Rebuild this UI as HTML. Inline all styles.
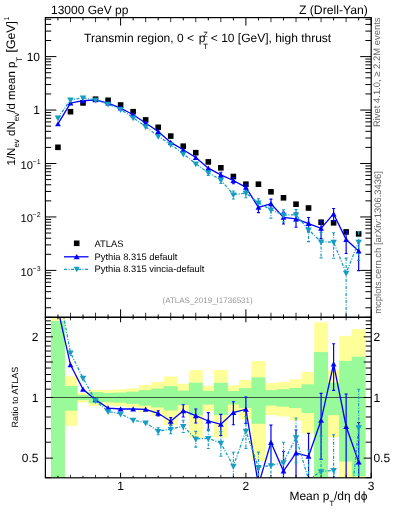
<!DOCTYPE html>
<html><head><meta charset="utf-8"><style>html,body{margin:0;padding:0;background:#fff;width:393px;height:512px;overflow:hidden}svg{display:block;will-change:transform}text{text-rendering:geometricPrecision}</style></head>
<body><svg width="393" height="512" viewBox="0 0 393 512"><rect x="0" y="0" width="393" height="512" fill="#fff"/>
<defs><clipPath id="cm"><rect x="45.4" y="17.6" width="325.8" height="299.7"/></clipPath><clipPath id="cr"><rect x="45.4" y="317.3" width="325.8" height="160.5"/></clipPath></defs>
<g clip-path="url(#cr)">
<rect x="50.98" y="315.30" width="13.93" height="164.50" fill="#ffff99"/>
<rect x="63.51" y="376.10" width="13.93" height="49.75" fill="#ffff99"/>
<rect x="76.04" y="392.90" width="13.93" height="9.42" fill="#ffff99"/>
<rect x="88.57" y="389.80" width="13.93" height="16.11" fill="#ffff99"/>
<rect x="101.10" y="390.10" width="13.93" height="15.45" fill="#ffff99"/>
<rect x="113.63" y="389.50" width="13.93" height="16.77" fill="#ffff99"/>
<rect x="126.16" y="388.50" width="13.93" height="19.00" fill="#ffff99"/>
<rect x="138.69" y="385.00" width="13.93" height="27.05" fill="#ffff99"/>
<rect x="151.22" y="382.00" width="13.93" height="34.31" fill="#ffff99"/>
<rect x="163.75" y="376.50" width="13.93" height="48.64" fill="#ffff99"/>
<rect x="176.28" y="383.80" width="13.93" height="29.91" fill="#ffff99"/>
<rect x="188.81" y="370.10" width="13.93" height="67.46" fill="#ffff99"/>
<rect x="201.34" y="385.80" width="13.93" height="25.17" fill="#ffff99"/>
<rect x="213.88" y="370.10" width="13.93" height="67.46" fill="#ffff99"/>
<rect x="226.40" y="385.30" width="13.93" height="26.35" fill="#ffff99"/>
<rect x="238.94" y="380.00" width="13.93" height="39.36" fill="#ffff99"/>
<rect x="251.47" y="361.10" width="13.93" height="99.81" fill="#ffff99"/>
<rect x="264.00" y="382.90" width="13.93" height="32.10" fill="#ffff99"/>
<rect x="276.53" y="381.90" width="13.93" height="34.56" fill="#ffff99"/>
<rect x="289.06" y="379.30" width="13.93" height="41.17" fill="#ffff99"/>
<rect x="301.59" y="372.00" width="13.93" height="61.59" fill="#ffff99"/>
<rect x="314.12" y="322.30" width="13.93" height="157.50" fill="#ffff99"/>
<rect x="326.65" y="370.30" width="13.93" height="66.83" fill="#ffff99"/>
<rect x="339.18" y="335.90" width="13.93" height="143.90" fill="#ffff99"/>
<rect x="351.70" y="329.20" width="13.93" height="150.60" fill="#ffff99"/>
<rect x="50.98" y="321.00" width="13.93" height="158.80" fill="#98fa98"/>
<rect x="63.51" y="386.00" width="13.93" height="24.71" fill="#98fa98"/>
<rect x="76.04" y="395.00" width="13.93" height="5.04" fill="#98fa98"/>
<rect x="88.57" y="392.10" width="13.93" height="11.12" fill="#98fa98"/>
<rect x="101.10" y="393.00" width="13.93" height="9.21" fill="#98fa98"/>
<rect x="113.63" y="392.60" width="13.93" height="10.06" fill="#98fa98"/>
<rect x="126.16" y="391.60" width="13.93" height="12.19" fill="#98fa98"/>
<rect x="138.69" y="390.10" width="13.93" height="15.45" fill="#98fa98"/>
<rect x="151.22" y="388.50" width="13.93" height="19.00" fill="#98fa98"/>
<rect x="163.75" y="386.20" width="13.93" height="24.24" fill="#98fa98"/>
<rect x="176.28" y="390.50" width="13.93" height="14.58" fill="#98fa98"/>
<rect x="188.81" y="382.70" width="13.93" height="32.59" fill="#98fa98"/>
<rect x="201.34" y="390.90" width="13.93" height="13.71" fill="#98fa98"/>
<rect x="213.88" y="382.80" width="13.93" height="32.34" fill="#98fa98"/>
<rect x="226.40" y="391.00" width="13.93" height="13.49" fill="#98fa98"/>
<rect x="238.94" y="388.20" width="13.93" height="19.67" fill="#98fa98"/>
<rect x="251.47" y="377.30" width="13.93" height="46.47" fill="#98fa98"/>
<rect x="264.00" y="390.10" width="13.93" height="15.45" fill="#98fa98"/>
<rect x="276.53" y="389.20" width="13.93" height="17.44" fill="#98fa98"/>
<rect x="289.06" y="388.00" width="13.93" height="20.12" fill="#98fa98"/>
<rect x="301.59" y="384.30" width="13.93" height="28.71" fill="#98fa98"/>
<rect x="314.12" y="352.10" width="13.93" height="127.70" fill="#98fa98"/>
<rect x="326.65" y="382.80" width="13.93" height="32.34" fill="#98fa98"/>
<rect x="339.18" y="360.90" width="13.93" height="100.64" fill="#98fa98"/>
<rect x="351.70" y="356.70" width="13.93" height="119.60" fill="#98fa98"/>
</g>
<line x1="45.4" y1="397.48" x2="371.2" y2="397.48" stroke="#000" stroke-width="1.1" opacity="0.62"/>
<g clip-path="url(#cr)">
<path d="M57.95,309.27 L70.48,364.90 L83.01,389.30 L95.54,399.80 L108.07,408.10 L120.60,409.00 L133.13,409.00 L145.66,409.30 L158.19,413.30 L170.72,421.30 L183.25,410.70 L195.78,415.70 L208.31,421.00 L220.84,424.30 L233.37,412.50 L245.90,409.20 L258.43,484.95 L270.96,442.50 L283.49,471.10 L296.02,453.00 L308.55,456.30 L321.08,420.30 L333.61,364.00 L346.14,426.50 L358.67,462.00" fill="none" stroke="#0000ff" stroke-width="1.3"/>
<line x1="158.19" y1="410.71" x2="158.19" y2="415.97" stroke="#0000ff" stroke-width="1.2"/>
<line x1="156.69" y1="410.71" x2="159.69" y2="410.71" stroke="#0000ff" stroke-width="1.1"/>
<line x1="156.69" y1="415.97" x2="159.69" y2="415.97" stroke="#0000ff" stroke-width="1.1"/>
<line x1="170.72" y1="417.62" x2="170.72" y2="425.15" stroke="#0000ff" stroke-width="1.2"/>
<line x1="169.22" y1="417.62" x2="172.22" y2="417.62" stroke="#0000ff" stroke-width="1.1"/>
<line x1="169.22" y1="425.15" x2="172.22" y2="425.15" stroke="#0000ff" stroke-width="1.1"/>
<line x1="183.25" y1="404.78" x2="183.25" y2="417.05" stroke="#0000ff" stroke-width="1.2"/>
<line x1="181.75" y1="404.78" x2="184.75" y2="404.78" stroke="#0000ff" stroke-width="1.1"/>
<line x1="181.75" y1="417.05" x2="184.75" y2="417.05" stroke="#0000ff" stroke-width="1.1"/>
<line x1="195.78" y1="408.97" x2="195.78" y2="423.00" stroke="#0000ff" stroke-width="1.2"/>
<line x1="194.28" y1="408.97" x2="197.28" y2="408.97" stroke="#0000ff" stroke-width="1.1"/>
<line x1="194.28" y1="423.00" x2="197.28" y2="423.00" stroke="#0000ff" stroke-width="1.1"/>
<line x1="208.31" y1="412.66" x2="208.31" y2="430.22" stroke="#0000ff" stroke-width="1.2"/>
<line x1="206.81" y1="412.66" x2="209.81" y2="412.66" stroke="#0000ff" stroke-width="1.1"/>
<line x1="206.81" y1="430.22" x2="209.81" y2="430.22" stroke="#0000ff" stroke-width="1.1"/>
<line x1="220.84" y1="414.38" x2="220.84" y2="435.49" stroke="#0000ff" stroke-width="1.2"/>
<line x1="219.34" y1="414.38" x2="222.34" y2="414.38" stroke="#0000ff" stroke-width="1.1"/>
<line x1="219.34" y1="435.49" x2="222.34" y2="435.49" stroke="#0000ff" stroke-width="1.1"/>
<line x1="233.37" y1="401.80" x2="233.37" y2="424.69" stroke="#0000ff" stroke-width="1.2"/>
<line x1="231.87" y1="401.80" x2="234.87" y2="401.80" stroke="#0000ff" stroke-width="1.1"/>
<line x1="231.87" y1="424.69" x2="234.87" y2="424.69" stroke="#0000ff" stroke-width="1.1"/>
<line x1="245.90" y1="396.97" x2="245.90" y2="423.42" stroke="#0000ff" stroke-width="1.2"/>
<line x1="244.40" y1="396.97" x2="247.40" y2="396.97" stroke="#0000ff" stroke-width="1.1"/>
<line x1="244.40" y1="423.42" x2="247.40" y2="423.42" stroke="#0000ff" stroke-width="1.1"/>
<line x1="258.43" y1="468.99" x2="258.43" y2="504.47" stroke="#0000ff" stroke-width="1.2"/>
<line x1="256.93" y1="468.99" x2="259.93" y2="468.99" stroke="#0000ff" stroke-width="1.1"/>
<line x1="256.93" y1="504.47" x2="259.93" y2="504.47" stroke="#0000ff" stroke-width="1.1"/>
<line x1="270.96" y1="425.10" x2="270.96" y2="464.24" stroke="#0000ff" stroke-width="1.2"/>
<line x1="269.46" y1="425.10" x2="272.46" y2="425.10" stroke="#0000ff" stroke-width="1.1"/>
<line x1="269.46" y1="464.24" x2="272.46" y2="464.24" stroke="#0000ff" stroke-width="1.1"/>
<line x1="283.49" y1="451.57" x2="283.49" y2="496.28" stroke="#0000ff" stroke-width="1.2"/>
<line x1="281.99" y1="451.57" x2="284.99" y2="451.57" stroke="#0000ff" stroke-width="1.1"/>
<line x1="281.99" y1="496.28" x2="284.99" y2="496.28" stroke="#0000ff" stroke-width="1.1"/>
<line x1="296.02" y1="430.04" x2="296.02" y2="484.21" stroke="#0000ff" stroke-width="1.2"/>
<line x1="294.52" y1="430.04" x2="297.52" y2="430.04" stroke="#0000ff" stroke-width="1.1"/>
<line x1="294.52" y1="484.21" x2="297.52" y2="484.21" stroke="#0000ff" stroke-width="1.1"/>
<line x1="308.55" y1="433.34" x2="308.55" y2="487.51" stroke="#0000ff" stroke-width="1.2"/>
<line x1="307.05" y1="433.34" x2="310.05" y2="433.34" stroke="#0000ff" stroke-width="1.1"/>
<line x1="307.05" y1="487.51" x2="310.05" y2="487.51" stroke="#0000ff" stroke-width="1.1"/>
<line x1="321.08" y1="393.39" x2="321.08" y2="459.35" stroke="#0000ff" stroke-width="1.2"/>
<line x1="319.58" y1="393.39" x2="322.58" y2="393.39" stroke="#0000ff" stroke-width="1.1"/>
<line x1="319.58" y1="459.35" x2="322.58" y2="459.35" stroke="#0000ff" stroke-width="1.1"/>
<line x1="333.61" y1="343.78" x2="333.61" y2="390.35" stroke="#0000ff" stroke-width="1.2"/>
<line x1="332.11" y1="343.78" x2="335.11" y2="343.78" stroke="#0000ff" stroke-width="1.1"/>
<line x1="332.11" y1="390.35" x2="335.11" y2="390.35" stroke="#0000ff" stroke-width="1.1"/>
<line x1="346.14" y1="393.98" x2="346.14" y2="478.82" stroke="#0000ff" stroke-width="1.2"/>
<line x1="344.64" y1="393.98" x2="347.64" y2="393.98" stroke="#0000ff" stroke-width="1.1"/>
<line x1="344.64" y1="478.82" x2="347.64" y2="478.82" stroke="#0000ff" stroke-width="1.1"/>
<line x1="358.67" y1="422.53" x2="358.67" y2="535.86" stroke="#0000ff" stroke-width="1.2"/>
<line x1="357.17" y1="422.53" x2="360.17" y2="422.53" stroke="#0000ff" stroke-width="1.1"/>
<line x1="357.17" y1="535.86" x2="360.17" y2="535.86" stroke="#0000ff" stroke-width="1.1"/>
</g>
<g clip-path="url(#cr)">
<path d="M57.95,286.27 L70.48,352.70 L83.01,378.10 L95.54,400.50 L108.07,411.50 L120.60,413.90 L133.13,420.00 L145.66,422.70 L158.19,431.20 L170.72,429.20 L183.25,426.20 L195.78,438.90 L208.31,438.30 L220.84,443.10 L233.37,466.00 L245.90,431.00 L258.43,467.30 L270.96,465.40 L283.49,462.50 L296.02,437.50 L308.55,479.50 L321.08,471.40 L333.61,470.30 L346.14,552.43 L358.67,427.60" fill="none" stroke="#179dc3" stroke-width="1.3" stroke-dasharray="3,1.5,1,1.5"/>
<line x1="158.19" y1="427.77" x2="158.19" y2="434.77" stroke="#179dc3" stroke-width="1.2" stroke-dasharray="3,1.5,1,1.5"/>
<line x1="156.69" y1="427.77" x2="159.69" y2="427.77" stroke="#179dc3" stroke-width="1.1"/>
<line x1="156.69" y1="434.77" x2="159.69" y2="434.77" stroke="#179dc3" stroke-width="1.1"/>
<line x1="170.72" y1="424.93" x2="170.72" y2="433.69" stroke="#179dc3" stroke-width="1.2" stroke-dasharray="3,1.5,1,1.5"/>
<line x1="169.22" y1="424.93" x2="172.22" y2="424.93" stroke="#179dc3" stroke-width="1.1"/>
<line x1="169.22" y1="433.69" x2="172.22" y2="433.69" stroke="#179dc3" stroke-width="1.1"/>
<line x1="183.25" y1="420.28" x2="183.25" y2="432.55" stroke="#179dc3" stroke-width="1.2" stroke-dasharray="3,1.5,1,1.5"/>
<line x1="181.75" y1="420.28" x2="184.75" y2="420.28" stroke="#179dc3" stroke-width="1.1"/>
<line x1="181.75" y1="432.55" x2="184.75" y2="432.55" stroke="#179dc3" stroke-width="1.1"/>
<line x1="195.78" y1="431.36" x2="195.78" y2="447.15" stroke="#179dc3" stroke-width="1.2" stroke-dasharray="3,1.5,1,1.5"/>
<line x1="194.28" y1="431.36" x2="197.28" y2="431.36" stroke="#179dc3" stroke-width="1.1"/>
<line x1="194.28" y1="447.15" x2="197.28" y2="447.15" stroke="#179dc3" stroke-width="1.1"/>
<line x1="208.31" y1="429.17" x2="208.31" y2="448.50" stroke="#179dc3" stroke-width="1.2" stroke-dasharray="3,1.5,1,1.5"/>
<line x1="206.81" y1="429.17" x2="209.81" y2="429.17" stroke="#179dc3" stroke-width="1.1"/>
<line x1="206.81" y1="448.50" x2="209.81" y2="448.50" stroke="#179dc3" stroke-width="1.1"/>
<line x1="220.84" y1="431.63" x2="220.84" y2="456.30" stroke="#179dc3" stroke-width="1.2" stroke-dasharray="3,1.5,1,1.5"/>
<line x1="219.34" y1="431.63" x2="222.34" y2="431.63" stroke="#179dc3" stroke-width="1.1"/>
<line x1="219.34" y1="456.30" x2="222.34" y2="456.30" stroke="#179dc3" stroke-width="1.1"/>
<line x1="233.37" y1="452.26" x2="233.37" y2="482.31" stroke="#179dc3" stroke-width="1.2" stroke-dasharray="3,1.5,1,1.5"/>
<line x1="231.87" y1="452.26" x2="234.87" y2="452.26" stroke="#179dc3" stroke-width="1.1"/>
<line x1="231.87" y1="482.31" x2="234.87" y2="482.31" stroke="#179dc3" stroke-width="1.1"/>
<line x1="245.90" y1="416.52" x2="245.90" y2="448.37" stroke="#179dc3" stroke-width="1.2" stroke-dasharray="3,1.5,1,1.5"/>
<line x1="244.40" y1="416.52" x2="247.40" y2="416.52" stroke="#179dc3" stroke-width="1.1"/>
<line x1="244.40" y1="448.37" x2="247.40" y2="448.37" stroke="#179dc3" stroke-width="1.1"/>
<line x1="258.43" y1="452.08" x2="258.43" y2="485.74" stroke="#179dc3" stroke-width="1.2" stroke-dasharray="3,1.5,1,1.5"/>
<line x1="256.93" y1="452.08" x2="259.93" y2="452.08" stroke="#179dc3" stroke-width="1.1"/>
<line x1="256.93" y1="485.74" x2="259.93" y2="485.74" stroke="#179dc3" stroke-width="1.1"/>
<line x1="270.96" y1="442.44" x2="270.96" y2="496.61" stroke="#179dc3" stroke-width="1.2" stroke-dasharray="3,1.5,1,1.5"/>
<line x1="269.46" y1="442.44" x2="272.46" y2="442.44" stroke="#179dc3" stroke-width="1.1"/>
<line x1="269.46" y1="496.61" x2="272.46" y2="496.61" stroke="#179dc3" stroke-width="1.1"/>
<line x1="283.49" y1="442.28" x2="283.49" y2="488.85" stroke="#179dc3" stroke-width="1.2" stroke-dasharray="3,1.5,1,1.5"/>
<line x1="281.99" y1="442.28" x2="284.99" y2="442.28" stroke="#179dc3" stroke-width="1.1"/>
<line x1="281.99" y1="488.85" x2="284.99" y2="488.85" stroke="#179dc3" stroke-width="1.1"/>
<line x1="296.02" y1="417.97" x2="296.02" y2="462.68" stroke="#179dc3" stroke-width="1.2" stroke-dasharray="3,1.5,1,1.5"/>
<line x1="294.52" y1="417.97" x2="297.52" y2="417.97" stroke="#179dc3" stroke-width="1.1"/>
<line x1="294.52" y1="462.68" x2="297.52" y2="462.68" stroke="#179dc3" stroke-width="1.1"/>
<line x1="308.55" y1="450.06" x2="308.55" y2="524.20" stroke="#179dc3" stroke-width="1.2" stroke-dasharray="3,1.5,1,1.5"/>
<line x1="307.05" y1="450.06" x2="310.05" y2="450.06" stroke="#179dc3" stroke-width="1.1"/>
<line x1="307.05" y1="524.20" x2="310.05" y2="524.20" stroke="#179dc3" stroke-width="1.1"/>
<line x1="321.08" y1="435.92" x2="321.08" y2="532.06" stroke="#179dc3" stroke-width="1.2" stroke-dasharray="3,1.5,1,1.5"/>
<line x1="319.58" y1="435.92" x2="322.58" y2="435.92" stroke="#179dc3" stroke-width="1.1"/>
<line x1="319.58" y1="532.06" x2="322.58" y2="532.06" stroke="#179dc3" stroke-width="1.1"/>
<line x1="333.61" y1="434.82" x2="333.61" y2="530.96" stroke="#179dc3" stroke-width="1.2" stroke-dasharray="3,1.5,1,1.5"/>
<line x1="332.11" y1="434.82" x2="335.11" y2="434.82" stroke="#179dc3" stroke-width="1.1"/>
<line x1="332.11" y1="530.96" x2="335.11" y2="530.96" stroke="#179dc3" stroke-width="1.1"/>
<line x1="346.14" y1="496.26" x2="346.14" y2="753.93" stroke="#179dc3" stroke-width="1.2" stroke-dasharray="3,1.5,1,1.5"/>
<line x1="344.64" y1="496.26" x2="347.64" y2="496.26" stroke="#179dc3" stroke-width="1.1"/>
<line x1="344.64" y1="753.93" x2="347.64" y2="753.93" stroke="#179dc3" stroke-width="1.1"/>
<line x1="358.67" y1="389.25" x2="358.67" y2="497.48" stroke="#179dc3" stroke-width="1.2" stroke-dasharray="3,1.5,1,1.5"/>
<line x1="357.17" y1="389.25" x2="360.17" y2="389.25" stroke="#179dc3" stroke-width="1.1"/>
<line x1="357.17" y1="497.48" x2="360.17" y2="497.48" stroke="#179dc3" stroke-width="1.1"/>
</g>
<g clip-path="url(#cr)">
<path d="M55.05,311.73L60.85,311.73L57.95,306.51Z" fill="#0000ff"/>
<path d="M67.58,367.36L73.38,367.36L70.48,362.14Z" fill="#0000ff"/>
<path d="M80.11,391.76L85.91,391.76L83.01,386.55Z" fill="#0000ff"/>
<path d="M92.64,402.26L98.44,402.26L95.54,397.05Z" fill="#0000ff"/>
<path d="M105.17,410.56L110.97,410.56L108.07,405.35Z" fill="#0000ff"/>
<path d="M117.70,411.46L123.50,411.46L120.60,406.25Z" fill="#0000ff"/>
<path d="M130.23,411.46L136.03,411.46L133.13,406.25Z" fill="#0000ff"/>
<path d="M142.76,411.76L148.56,411.76L145.66,406.55Z" fill="#0000ff"/>
<path d="M155.29,415.76L161.09,415.76L158.19,410.55Z" fill="#0000ff"/>
<path d="M167.82,423.76L173.62,423.76L170.72,418.55Z" fill="#0000ff"/>
<path d="M180.35,413.16L186.15,413.16L183.25,407.94Z" fill="#0000ff"/>
<path d="M192.88,418.16L198.68,418.16L195.78,412.94Z" fill="#0000ff"/>
<path d="M205.41,423.46L211.21,423.46L208.31,418.25Z" fill="#0000ff"/>
<path d="M217.94,426.76L223.74,426.76L220.84,421.55Z" fill="#0000ff"/>
<path d="M230.47,414.96L236.27,414.96L233.37,409.75Z" fill="#0000ff"/>
<path d="M243.00,411.66L248.80,411.66L245.90,406.44Z" fill="#0000ff"/>
<path d="M255.53,487.41L261.33,487.41L258.43,482.19Z" fill="#0000ff"/>
<path d="M268.06,444.96L273.86,444.96L270.96,439.75Z" fill="#0000ff"/>
<path d="M280.59,473.56L286.39,473.56L283.49,468.35Z" fill="#0000ff"/>
<path d="M293.12,455.46L298.92,455.46L296.02,450.25Z" fill="#0000ff"/>
<path d="M305.65,458.76L311.45,458.76L308.55,453.55Z" fill="#0000ff"/>
<path d="M318.18,422.76L323.98,422.76L321.08,417.55Z" fill="#0000ff"/>
<path d="M330.71,366.46L336.51,366.46L333.61,361.25Z" fill="#0000ff"/>
<path d="M343.24,428.96L349.04,428.96L346.14,423.75Z" fill="#0000ff"/>
<path d="M355.77,464.46L361.57,464.46L358.67,459.25Z" fill="#0000ff"/>
</g>
<g clip-path="url(#cr)">
<path d="M54.70,284.01L61.20,284.01L57.95,289.86Z" fill="#179dc3"/>
<path d="M67.23,350.44L73.73,350.44L70.48,356.29Z" fill="#179dc3"/>
<path d="M79.76,375.84L86.26,375.84L83.01,381.69Z" fill="#179dc3"/>
<path d="M92.29,398.24L98.79,398.24L95.54,404.09Z" fill="#179dc3"/>
<path d="M104.82,409.24L111.32,409.24L108.07,415.09Z" fill="#179dc3"/>
<path d="M117.35,411.64L123.85,411.64L120.60,417.49Z" fill="#179dc3"/>
<path d="M129.88,417.74L136.38,417.74L133.13,423.59Z" fill="#179dc3"/>
<path d="M142.41,420.44L148.91,420.44L145.66,426.29Z" fill="#179dc3"/>
<path d="M154.94,428.94L161.44,428.94L158.19,434.79Z" fill="#179dc3"/>
<path d="M167.47,426.94L173.97,426.94L170.72,432.79Z" fill="#179dc3"/>
<path d="M180.00,423.94L186.50,423.94L183.25,429.79Z" fill="#179dc3"/>
<path d="M192.53,436.64L199.03,436.64L195.78,442.49Z" fill="#179dc3"/>
<path d="M205.06,436.04L211.56,436.04L208.31,441.89Z" fill="#179dc3"/>
<path d="M217.59,440.84L224.09,440.84L220.84,446.69Z" fill="#179dc3"/>
<path d="M230.12,463.74L236.62,463.74L233.37,469.59Z" fill="#179dc3"/>
<path d="M242.65,428.74L249.15,428.74L245.90,434.59Z" fill="#179dc3"/>
<path d="M255.18,465.04L261.68,465.04L258.43,470.89Z" fill="#179dc3"/>
<path d="M267.71,463.14L274.21,463.14L270.96,468.99Z" fill="#179dc3"/>
<path d="M280.24,460.24L286.74,460.24L283.49,466.09Z" fill="#179dc3"/>
<path d="M292.77,435.24L299.27,435.24L296.02,441.09Z" fill="#179dc3"/>
<path d="M305.30,477.24L311.80,477.24L308.55,483.09Z" fill="#179dc3"/>
<path d="M317.83,469.14L324.33,469.14L321.08,474.99Z" fill="#179dc3"/>
<path d="M330.36,468.04L336.86,468.04L333.61,473.89Z" fill="#179dc3"/>
<path d="M342.89,550.16L349.39,550.16L346.14,556.01Z" fill="#179dc3"/>
<path d="M355.42,425.34L361.92,425.34L358.67,431.19Z" fill="#179dc3"/>
</g>
<rect x="55.15" y="144.50" width="5.6" height="5.6" fill="#000"/>
<rect x="67.68" y="108.90" width="5.6" height="5.6" fill="#000"/>
<rect x="80.21" y="100.10" width="5.6" height="5.6" fill="#000"/>
<rect x="92.74" y="96.40" width="5.6" height="5.6" fill="#000"/>
<rect x="105.27" y="97.50" width="5.6" height="5.6" fill="#000"/>
<rect x="117.80" y="102.20" width="5.6" height="5.6" fill="#000"/>
<rect x="130.33" y="108.90" width="5.6" height="5.6" fill="#000"/>
<rect x="142.86" y="117.10" width="5.6" height="5.6" fill="#000"/>
<rect x="155.39" y="124.50" width="5.6" height="5.6" fill="#000"/>
<rect x="167.92" y="133.30" width="5.6" height="5.6" fill="#000"/>
<rect x="180.45" y="143.40" width="5.6" height="5.6" fill="#000"/>
<rect x="192.98" y="149.90" width="5.6" height="5.6" fill="#000"/>
<rect x="205.51" y="159.10" width="5.6" height="5.6" fill="#000"/>
<rect x="218.04" y="165.00" width="5.6" height="5.6" fill="#000"/>
<rect x="230.57" y="173.70" width="5.6" height="5.6" fill="#000"/>
<rect x="243.10" y="181.40" width="5.6" height="5.6" fill="#000"/>
<rect x="255.63" y="181.40" width="5.6" height="5.6" fill="#000"/>
<rect x="268.16" y="189.00" width="5.6" height="5.6" fill="#000"/>
<rect x="280.69" y="195.00" width="5.6" height="5.6" fill="#000"/>
<rect x="293.22" y="201.40" width="5.6" height="5.6" fill="#000"/>
<rect x="305.75" y="205.20" width="5.6" height="5.6" fill="#000"/>
<rect x="318.28" y="219.40" width="5.6" height="5.6" fill="#000"/>
<rect x="330.81" y="220.00" width="5.6" height="5.6" fill="#000"/>
<rect x="343.34" y="229.10" width="5.6" height="5.6" fill="#000"/>
<rect x="355.87" y="231.10" width="5.6" height="5.6" fill="#000"/>
<g clip-path="url(#cm)">
<path d="M57.95,123.90 L70.48,103.06 L83.01,100.73 L95.54,99.81 L108.07,103.12 L120.60,108.05 L133.13,114.75 L145.66,123.03 L158.19,131.50 L170.72,142.42 L183.25,149.71 L195.78,157.53 L208.31,168.14 L220.84,174.91 L233.37,180.48 L245.90,187.31 L258.43,207.40 L270.96,203.74 L283.49,217.33 L296.02,218.93 L308.55,223.60 L321.08,228.25 L333.61,213.92 L346.14,239.60 L358.67,251.01" fill="none" stroke="#0000ff" stroke-width="1.3"/>
<line x1="220.84" y1="172.28" x2="220.84" y2="177.88" stroke="#0000ff" stroke-width="1.2"/>
<line x1="219.34" y1="172.28" x2="222.34" y2="172.28" stroke="#0000ff" stroke-width="1.1"/>
<line x1="219.34" y1="177.88" x2="222.34" y2="177.88" stroke="#0000ff" stroke-width="1.1"/>
<line x1="233.37" y1="177.65" x2="233.37" y2="183.72" stroke="#0000ff" stroke-width="1.2"/>
<line x1="231.87" y1="177.65" x2="234.87" y2="177.65" stroke="#0000ff" stroke-width="1.1"/>
<line x1="231.87" y1="183.72" x2="234.87" y2="183.72" stroke="#0000ff" stroke-width="1.1"/>
<line x1="245.90" y1="184.06" x2="245.90" y2="191.08" stroke="#0000ff" stroke-width="1.2"/>
<line x1="244.40" y1="184.06" x2="247.40" y2="184.06" stroke="#0000ff" stroke-width="1.1"/>
<line x1="244.40" y1="191.08" x2="247.40" y2="191.08" stroke="#0000ff" stroke-width="1.1"/>
<line x1="258.43" y1="203.17" x2="258.43" y2="212.58" stroke="#0000ff" stroke-width="1.2"/>
<line x1="256.93" y1="203.17" x2="259.93" y2="203.17" stroke="#0000ff" stroke-width="1.1"/>
<line x1="256.93" y1="212.58" x2="259.93" y2="212.58" stroke="#0000ff" stroke-width="1.1"/>
<line x1="270.96" y1="199.12" x2="270.96" y2="209.51" stroke="#0000ff" stroke-width="1.2"/>
<line x1="269.46" y1="199.12" x2="272.46" y2="199.12" stroke="#0000ff" stroke-width="1.1"/>
<line x1="269.46" y1="209.51" x2="272.46" y2="209.51" stroke="#0000ff" stroke-width="1.1"/>
<line x1="283.49" y1="212.15" x2="283.49" y2="224.01" stroke="#0000ff" stroke-width="1.2"/>
<line x1="281.99" y1="212.15" x2="284.99" y2="212.15" stroke="#0000ff" stroke-width="1.1"/>
<line x1="281.99" y1="224.01" x2="284.99" y2="224.01" stroke="#0000ff" stroke-width="1.1"/>
<line x1="296.02" y1="212.84" x2="296.02" y2="227.21" stroke="#0000ff" stroke-width="1.2"/>
<line x1="294.52" y1="212.84" x2="297.52" y2="212.84" stroke="#0000ff" stroke-width="1.1"/>
<line x1="294.52" y1="227.21" x2="297.52" y2="227.21" stroke="#0000ff" stroke-width="1.1"/>
<line x1="308.55" y1="217.51" x2="308.55" y2="231.88" stroke="#0000ff" stroke-width="1.2"/>
<line x1="307.05" y1="217.51" x2="310.05" y2="217.51" stroke="#0000ff" stroke-width="1.1"/>
<line x1="307.05" y1="231.88" x2="310.05" y2="231.88" stroke="#0000ff" stroke-width="1.1"/>
<line x1="321.08" y1="221.11" x2="321.08" y2="238.61" stroke="#0000ff" stroke-width="1.2"/>
<line x1="319.58" y1="221.11" x2="322.58" y2="221.11" stroke="#0000ff" stroke-width="1.1"/>
<line x1="319.58" y1="238.61" x2="322.58" y2="238.61" stroke="#0000ff" stroke-width="1.1"/>
<line x1="333.61" y1="208.55" x2="333.61" y2="220.91" stroke="#0000ff" stroke-width="1.2"/>
<line x1="332.11" y1="208.55" x2="335.11" y2="208.55" stroke="#0000ff" stroke-width="1.1"/>
<line x1="332.11" y1="220.91" x2="335.11" y2="220.91" stroke="#0000ff" stroke-width="1.1"/>
<line x1="346.14" y1="230.97" x2="346.14" y2="253.47" stroke="#0000ff" stroke-width="1.2"/>
<line x1="344.64" y1="230.97" x2="347.64" y2="230.97" stroke="#0000ff" stroke-width="1.1"/>
<line x1="344.64" y1="253.47" x2="347.64" y2="253.47" stroke="#0000ff" stroke-width="1.1"/>
<line x1="358.67" y1="240.54" x2="358.67" y2="270.60" stroke="#0000ff" stroke-width="1.2"/>
<line x1="357.17" y1="240.54" x2="360.17" y2="240.54" stroke="#0000ff" stroke-width="1.1"/>
<line x1="357.17" y1="270.60" x2="360.17" y2="270.60" stroke="#0000ff" stroke-width="1.1"/>
</g>
<g clip-path="url(#cm)">
<path d="M57.95,117.80 L70.48,99.82 L83.01,97.76 L95.54,100.00 L108.07,104.02 L120.60,109.35 L133.13,117.67 L145.66,126.59 L158.19,136.24 L170.72,144.51 L183.25,153.82 L195.78,163.69 L208.31,172.73 L220.84,179.90 L233.37,194.67 L245.90,193.09 L258.43,202.72 L270.96,209.82 L283.49,215.05 L296.02,214.81 L308.55,229.76 L321.08,241.81 L333.61,242.11 L346.14,273.00 L358.67,241.89" fill="none" stroke="#179dc3" stroke-width="1.3" stroke-dasharray="3,1.5,1,1.5"/>
<line x1="208.31" y1="170.30" x2="208.31" y2="175.43" stroke="#179dc3" stroke-width="1.2" stroke-dasharray="3,1.5,1,1.5"/>
<line x1="206.81" y1="170.30" x2="209.81" y2="170.30" stroke="#179dc3" stroke-width="1.1"/>
<line x1="206.81" y1="175.43" x2="209.81" y2="175.43" stroke="#179dc3" stroke-width="1.1"/>
<line x1="220.84" y1="176.86" x2="220.84" y2="183.40" stroke="#179dc3" stroke-width="1.2" stroke-dasharray="3,1.5,1,1.5"/>
<line x1="219.34" y1="176.86" x2="222.34" y2="176.86" stroke="#179dc3" stroke-width="1.1"/>
<line x1="219.34" y1="183.40" x2="222.34" y2="183.40" stroke="#179dc3" stroke-width="1.1"/>
<line x1="233.37" y1="191.03" x2="233.37" y2="199.00" stroke="#179dc3" stroke-width="1.2" stroke-dasharray="3,1.5,1,1.5"/>
<line x1="231.87" y1="191.03" x2="234.87" y2="191.03" stroke="#179dc3" stroke-width="1.1"/>
<line x1="231.87" y1="199.00" x2="234.87" y2="199.00" stroke="#179dc3" stroke-width="1.1"/>
<line x1="245.90" y1="189.25" x2="245.90" y2="197.70" stroke="#179dc3" stroke-width="1.2" stroke-dasharray="3,1.5,1,1.5"/>
<line x1="244.40" y1="189.25" x2="247.40" y2="189.25" stroke="#179dc3" stroke-width="1.1"/>
<line x1="244.40" y1="197.70" x2="247.40" y2="197.70" stroke="#179dc3" stroke-width="1.1"/>
<line x1="258.43" y1="198.68" x2="258.43" y2="207.61" stroke="#179dc3" stroke-width="1.2" stroke-dasharray="3,1.5,1,1.5"/>
<line x1="256.93" y1="198.68" x2="259.93" y2="198.68" stroke="#179dc3" stroke-width="1.1"/>
<line x1="256.93" y1="207.61" x2="259.93" y2="207.61" stroke="#179dc3" stroke-width="1.1"/>
<line x1="270.96" y1="203.72" x2="270.96" y2="218.09" stroke="#179dc3" stroke-width="1.2" stroke-dasharray="3,1.5,1,1.5"/>
<line x1="269.46" y1="203.72" x2="272.46" y2="203.72" stroke="#179dc3" stroke-width="1.1"/>
<line x1="269.46" y1="218.09" x2="272.46" y2="218.09" stroke="#179dc3" stroke-width="1.1"/>
<line x1="283.49" y1="209.68" x2="283.49" y2="222.04" stroke="#179dc3" stroke-width="1.2" stroke-dasharray="3,1.5,1,1.5"/>
<line x1="281.99" y1="209.68" x2="284.99" y2="209.68" stroke="#179dc3" stroke-width="1.1"/>
<line x1="281.99" y1="222.04" x2="284.99" y2="222.04" stroke="#179dc3" stroke-width="1.1"/>
<line x1="296.02" y1="209.63" x2="296.02" y2="221.49" stroke="#179dc3" stroke-width="1.2" stroke-dasharray="3,1.5,1,1.5"/>
<line x1="294.52" y1="209.63" x2="297.52" y2="209.63" stroke="#179dc3" stroke-width="1.1"/>
<line x1="294.52" y1="221.49" x2="297.52" y2="221.49" stroke="#179dc3" stroke-width="1.1"/>
<line x1="308.55" y1="221.94" x2="308.55" y2="241.61" stroke="#179dc3" stroke-width="1.2" stroke-dasharray="3,1.5,1,1.5"/>
<line x1="307.05" y1="221.94" x2="310.05" y2="221.94" stroke="#179dc3" stroke-width="1.1"/>
<line x1="307.05" y1="241.61" x2="310.05" y2="241.61" stroke="#179dc3" stroke-width="1.1"/>
<line x1="321.08" y1="232.39" x2="321.08" y2="257.90" stroke="#179dc3" stroke-width="1.2" stroke-dasharray="3,1.5,1,1.5"/>
<line x1="319.58" y1="232.39" x2="322.58" y2="232.39" stroke="#179dc3" stroke-width="1.1"/>
<line x1="319.58" y1="257.90" x2="322.58" y2="257.90" stroke="#179dc3" stroke-width="1.1"/>
<line x1="333.61" y1="232.70" x2="333.61" y2="258.21" stroke="#179dc3" stroke-width="1.2" stroke-dasharray="3,1.5,1,1.5"/>
<line x1="332.11" y1="232.70" x2="335.11" y2="232.70" stroke="#179dc3" stroke-width="1.1"/>
<line x1="332.11" y1="258.21" x2="335.11" y2="258.21" stroke="#179dc3" stroke-width="1.1"/>
<line x1="346.14" y1="258.10" x2="346.14" y2="326.45" stroke="#179dc3" stroke-width="1.2" stroke-dasharray="3,1.5,1,1.5"/>
<line x1="344.64" y1="258.10" x2="347.64" y2="258.10" stroke="#179dc3" stroke-width="1.1"/>
<line x1="344.64" y1="326.45" x2="347.64" y2="326.45" stroke="#179dc3" stroke-width="1.1"/>
<line x1="358.67" y1="231.72" x2="358.67" y2="260.42" stroke="#179dc3" stroke-width="1.2" stroke-dasharray="3,1.5,1,1.5"/>
<line x1="357.17" y1="231.72" x2="360.17" y2="231.72" stroke="#179dc3" stroke-width="1.1"/>
<line x1="357.17" y1="260.42" x2="360.17" y2="260.42" stroke="#179dc3" stroke-width="1.1"/>
</g>
<g clip-path="url(#cm)">
<path d="M55.05,126.37L60.85,126.37L57.95,121.15Z" fill="#0000ff"/>
<path d="M67.58,105.52L73.38,105.52L70.48,100.30Z" fill="#0000ff"/>
<path d="M80.11,103.19L85.91,103.19L83.01,97.97Z" fill="#0000ff"/>
<path d="M92.64,102.28L98.44,102.28L95.54,97.06Z" fill="#0000ff"/>
<path d="M105.17,105.58L110.97,105.58L108.07,100.36Z" fill="#0000ff"/>
<path d="M117.70,110.52L123.50,110.52L120.60,105.30Z" fill="#0000ff"/>
<path d="M130.23,117.22L136.03,117.22L133.13,112.00Z" fill="#0000ff"/>
<path d="M142.76,125.50L148.56,125.50L145.66,120.28Z" fill="#0000ff"/>
<path d="M155.29,133.96L161.09,133.96L158.19,128.74Z" fill="#0000ff"/>
<path d="M167.82,144.88L173.62,144.88L170.72,139.66Z" fill="#0000ff"/>
<path d="M180.35,152.17L186.15,152.17L183.25,146.95Z" fill="#0000ff"/>
<path d="M192.88,160.00L198.68,160.00L195.78,154.78Z" fill="#0000ff"/>
<path d="M205.41,170.60L211.21,170.60L208.31,165.38Z" fill="#0000ff"/>
<path d="M217.94,177.38L223.74,177.38L220.84,172.16Z" fill="#0000ff"/>
<path d="M230.47,182.95L236.27,182.95L233.37,177.73Z" fill="#0000ff"/>
<path d="M243.00,189.77L248.80,189.77L245.90,184.55Z" fill="#0000ff"/>
<path d="M255.53,209.87L261.33,209.87L258.43,204.65Z" fill="#0000ff"/>
<path d="M268.06,206.21L273.86,206.21L270.96,200.99Z" fill="#0000ff"/>
<path d="M280.59,219.79L286.39,219.79L283.49,214.57Z" fill="#0000ff"/>
<path d="M293.12,221.39L298.92,221.39L296.02,216.17Z" fill="#0000ff"/>
<path d="M305.65,226.07L311.45,226.07L308.55,220.85Z" fill="#0000ff"/>
<path d="M318.18,230.72L323.98,230.72L321.08,225.50Z" fill="#0000ff"/>
<path d="M330.71,216.38L336.51,216.38L333.61,211.16Z" fill="#0000ff"/>
<path d="M343.24,242.06L349.04,242.06L346.14,236.84Z" fill="#0000ff"/>
<path d="M355.77,253.48L361.57,253.48L358.67,248.26Z" fill="#0000ff"/>
</g>
<g clip-path="url(#cm)">
<path d="M54.70,115.54L61.20,115.54L57.95,121.39Z" fill="#179dc3"/>
<path d="M67.23,97.56L73.73,97.56L70.48,103.41Z" fill="#179dc3"/>
<path d="M79.76,95.50L86.26,95.50L83.01,101.35Z" fill="#179dc3"/>
<path d="M92.29,97.74L98.79,97.74L95.54,103.59Z" fill="#179dc3"/>
<path d="M104.82,101.76L111.32,101.76L108.07,107.61Z" fill="#179dc3"/>
<path d="M117.35,107.09L123.85,107.09L120.60,112.94Z" fill="#179dc3"/>
<path d="M129.88,115.41L136.38,115.41L133.13,121.26Z" fill="#179dc3"/>
<path d="M142.41,124.33L148.91,124.33L145.66,130.18Z" fill="#179dc3"/>
<path d="M154.94,133.98L161.44,133.98L158.19,139.83Z" fill="#179dc3"/>
<path d="M167.47,142.25L173.97,142.25L170.72,148.10Z" fill="#179dc3"/>
<path d="M180.00,151.55L186.50,151.55L183.25,157.40Z" fill="#179dc3"/>
<path d="M192.53,161.42L199.03,161.42L195.78,167.27Z" fill="#179dc3"/>
<path d="M205.06,170.46L211.56,170.46L208.31,176.31Z" fill="#179dc3"/>
<path d="M217.59,177.64L224.09,177.64L220.84,183.49Z" fill="#179dc3"/>
<path d="M230.12,192.41L236.62,192.41L233.37,198.26Z" fill="#179dc3"/>
<path d="M242.65,190.83L249.15,190.83L245.90,196.68Z" fill="#179dc3"/>
<path d="M255.18,200.46L261.68,200.46L258.43,206.31Z" fill="#179dc3"/>
<path d="M267.71,207.55L274.21,207.55L270.96,213.40Z" fill="#179dc3"/>
<path d="M280.24,212.78L286.74,212.78L283.49,218.63Z" fill="#179dc3"/>
<path d="M292.77,212.55L299.27,212.55L296.02,218.40Z" fill="#179dc3"/>
<path d="M305.30,227.49L311.80,227.49L308.55,233.34Z" fill="#179dc3"/>
<path d="M317.83,239.54L324.33,239.54L321.08,245.39Z" fill="#179dc3"/>
<path d="M330.36,239.85L336.86,239.85L333.61,245.70Z" fill="#179dc3"/>
<path d="M342.89,270.74L349.39,270.74L346.14,276.59Z" fill="#179dc3"/>
<path d="M355.42,239.63L361.92,239.63L358.67,245.48Z" fill="#179dc3"/>
</g>
<rect x="45.4" y="17.6" width="325.8" height="299.7" fill="none" stroke="#000" stroke-width="1.2"/>
<rect x="45.4" y="317.3" width="325.8" height="160.5" fill="none" stroke="#000" stroke-width="1.2"/>
<g stroke="#000" stroke-width="1">
<line x1="45.42" y1="17.6" x2="45.42" y2="22.200000000000003" stroke-width="0.8"/>
<line x1="45.42" y1="317.3" x2="45.42" y2="312.7" stroke-width="0.8"/>
<line x1="45.42" y1="317.3" x2="45.42" y2="320.3" stroke-width="0.8"/>
<line x1="45.42" y1="477.8" x2="45.42" y2="474.8" stroke-width="0.8"/>
<line x1="57.95" y1="17.6" x2="57.95" y2="20.400000000000002" stroke-width="1"/>
<line x1="57.95" y1="317.3" x2="57.95" y2="314.5" stroke-width="1"/>
<line x1="57.95" y1="317.3" x2="57.95" y2="319.3" stroke-width="1"/>
<line x1="57.95" y1="477.8" x2="57.95" y2="475.8" stroke-width="1"/>
<line x1="70.48" y1="17.6" x2="70.48" y2="22.200000000000003" stroke-width="0.8"/>
<line x1="70.48" y1="317.3" x2="70.48" y2="312.7" stroke-width="0.8"/>
<line x1="70.48" y1="317.3" x2="70.48" y2="320.3" stroke-width="0.8"/>
<line x1="70.48" y1="477.8" x2="70.48" y2="474.8" stroke-width="0.8"/>
<line x1="83.01" y1="17.6" x2="83.01" y2="20.400000000000002" stroke-width="1"/>
<line x1="83.01" y1="317.3" x2="83.01" y2="314.5" stroke-width="1"/>
<line x1="83.01" y1="317.3" x2="83.01" y2="319.3" stroke-width="1"/>
<line x1="83.01" y1="477.8" x2="83.01" y2="475.8" stroke-width="1"/>
<line x1="95.54" y1="17.6" x2="95.54" y2="22.200000000000003" stroke-width="0.8"/>
<line x1="95.54" y1="317.3" x2="95.54" y2="312.7" stroke-width="0.8"/>
<line x1="95.54" y1="317.3" x2="95.54" y2="320.3" stroke-width="0.8"/>
<line x1="95.54" y1="477.8" x2="95.54" y2="474.8" stroke-width="0.8"/>
<line x1="108.07" y1="17.6" x2="108.07" y2="20.400000000000002" stroke-width="1"/>
<line x1="108.07" y1="317.3" x2="108.07" y2="314.5" stroke-width="1"/>
<line x1="108.07" y1="317.3" x2="108.07" y2="319.3" stroke-width="1"/>
<line x1="108.07" y1="477.8" x2="108.07" y2="475.8" stroke-width="1"/>
<line x1="120.60" y1="17.6" x2="120.60" y2="25.6" stroke-width="1"/>
<line x1="120.60" y1="317.3" x2="120.60" y2="309.3" stroke-width="1"/>
<line x1="120.60" y1="317.3" x2="120.60" y2="322.3" stroke-width="1"/>
<line x1="120.60" y1="477.8" x2="120.60" y2="472.8" stroke-width="1"/>
<line x1="133.13" y1="17.6" x2="133.13" y2="20.400000000000002" stroke-width="1"/>
<line x1="133.13" y1="317.3" x2="133.13" y2="314.5" stroke-width="1"/>
<line x1="133.13" y1="317.3" x2="133.13" y2="319.3" stroke-width="1"/>
<line x1="133.13" y1="477.8" x2="133.13" y2="475.8" stroke-width="1"/>
<line x1="145.66" y1="17.6" x2="145.66" y2="22.200000000000003" stroke-width="0.8"/>
<line x1="145.66" y1="317.3" x2="145.66" y2="312.7" stroke-width="0.8"/>
<line x1="145.66" y1="317.3" x2="145.66" y2="320.3" stroke-width="0.8"/>
<line x1="145.66" y1="477.8" x2="145.66" y2="474.8" stroke-width="0.8"/>
<line x1="158.19" y1="17.6" x2="158.19" y2="20.400000000000002" stroke-width="1"/>
<line x1="158.19" y1="317.3" x2="158.19" y2="314.5" stroke-width="1"/>
<line x1="158.19" y1="317.3" x2="158.19" y2="319.3" stroke-width="1"/>
<line x1="158.19" y1="477.8" x2="158.19" y2="475.8" stroke-width="1"/>
<line x1="170.72" y1="17.6" x2="170.72" y2="22.200000000000003" stroke-width="0.8"/>
<line x1="170.72" y1="317.3" x2="170.72" y2="312.7" stroke-width="0.8"/>
<line x1="170.72" y1="317.3" x2="170.72" y2="320.3" stroke-width="0.8"/>
<line x1="170.72" y1="477.8" x2="170.72" y2="474.8" stroke-width="0.8"/>
<line x1="183.25" y1="17.6" x2="183.25" y2="20.400000000000002" stroke-width="1"/>
<line x1="183.25" y1="317.3" x2="183.25" y2="314.5" stroke-width="1"/>
<line x1="183.25" y1="317.3" x2="183.25" y2="319.3" stroke-width="1"/>
<line x1="183.25" y1="477.8" x2="183.25" y2="475.8" stroke-width="1"/>
<line x1="195.78" y1="17.6" x2="195.78" y2="22.200000000000003" stroke-width="0.8"/>
<line x1="195.78" y1="317.3" x2="195.78" y2="312.7" stroke-width="0.8"/>
<line x1="195.78" y1="317.3" x2="195.78" y2="320.3" stroke-width="0.8"/>
<line x1="195.78" y1="477.8" x2="195.78" y2="474.8" stroke-width="0.8"/>
<line x1="208.31" y1="17.6" x2="208.31" y2="20.400000000000002" stroke-width="1"/>
<line x1="208.31" y1="317.3" x2="208.31" y2="314.5" stroke-width="1"/>
<line x1="208.31" y1="317.3" x2="208.31" y2="319.3" stroke-width="1"/>
<line x1="208.31" y1="477.8" x2="208.31" y2="475.8" stroke-width="1"/>
<line x1="220.84" y1="17.6" x2="220.84" y2="22.200000000000003" stroke-width="0.8"/>
<line x1="220.84" y1="317.3" x2="220.84" y2="312.7" stroke-width="0.8"/>
<line x1="220.84" y1="317.3" x2="220.84" y2="320.3" stroke-width="0.8"/>
<line x1="220.84" y1="477.8" x2="220.84" y2="474.8" stroke-width="0.8"/>
<line x1="233.37" y1="17.6" x2="233.37" y2="20.400000000000002" stroke-width="1"/>
<line x1="233.37" y1="317.3" x2="233.37" y2="314.5" stroke-width="1"/>
<line x1="233.37" y1="317.3" x2="233.37" y2="319.3" stroke-width="1"/>
<line x1="233.37" y1="477.8" x2="233.37" y2="475.8" stroke-width="1"/>
<line x1="245.90" y1="17.6" x2="245.90" y2="25.6" stroke-width="1"/>
<line x1="245.90" y1="317.3" x2="245.90" y2="309.3" stroke-width="1"/>
<line x1="245.90" y1="317.3" x2="245.90" y2="322.3" stroke-width="1"/>
<line x1="245.90" y1="477.8" x2="245.90" y2="472.8" stroke-width="1"/>
<line x1="258.43" y1="17.6" x2="258.43" y2="20.400000000000002" stroke-width="1"/>
<line x1="258.43" y1="317.3" x2="258.43" y2="314.5" stroke-width="1"/>
<line x1="258.43" y1="317.3" x2="258.43" y2="319.3" stroke-width="1"/>
<line x1="258.43" y1="477.8" x2="258.43" y2="475.8" stroke-width="1"/>
<line x1="270.96" y1="17.6" x2="270.96" y2="22.200000000000003" stroke-width="0.8"/>
<line x1="270.96" y1="317.3" x2="270.96" y2="312.7" stroke-width="0.8"/>
<line x1="270.96" y1="317.3" x2="270.96" y2="320.3" stroke-width="0.8"/>
<line x1="270.96" y1="477.8" x2="270.96" y2="474.8" stroke-width="0.8"/>
<line x1="283.49" y1="17.6" x2="283.49" y2="20.400000000000002" stroke-width="1"/>
<line x1="283.49" y1="317.3" x2="283.49" y2="314.5" stroke-width="1"/>
<line x1="283.49" y1="317.3" x2="283.49" y2="319.3" stroke-width="1"/>
<line x1="283.49" y1="477.8" x2="283.49" y2="475.8" stroke-width="1"/>
<line x1="296.02" y1="17.6" x2="296.02" y2="22.200000000000003" stroke-width="0.8"/>
<line x1="296.02" y1="317.3" x2="296.02" y2="312.7" stroke-width="0.8"/>
<line x1="296.02" y1="317.3" x2="296.02" y2="320.3" stroke-width="0.8"/>
<line x1="296.02" y1="477.8" x2="296.02" y2="474.8" stroke-width="0.8"/>
<line x1="308.55" y1="17.6" x2="308.55" y2="20.400000000000002" stroke-width="1"/>
<line x1="308.55" y1="317.3" x2="308.55" y2="314.5" stroke-width="1"/>
<line x1="308.55" y1="317.3" x2="308.55" y2="319.3" stroke-width="1"/>
<line x1="308.55" y1="477.8" x2="308.55" y2="475.8" stroke-width="1"/>
<line x1="321.08" y1="17.6" x2="321.08" y2="22.200000000000003" stroke-width="0.8"/>
<line x1="321.08" y1="317.3" x2="321.08" y2="312.7" stroke-width="0.8"/>
<line x1="321.08" y1="317.3" x2="321.08" y2="320.3" stroke-width="0.8"/>
<line x1="321.08" y1="477.8" x2="321.08" y2="474.8" stroke-width="0.8"/>
<line x1="333.61" y1="17.6" x2="333.61" y2="20.400000000000002" stroke-width="1"/>
<line x1="333.61" y1="317.3" x2="333.61" y2="314.5" stroke-width="1"/>
<line x1="333.61" y1="317.3" x2="333.61" y2="319.3" stroke-width="1"/>
<line x1="333.61" y1="477.8" x2="333.61" y2="475.8" stroke-width="1"/>
<line x1="346.14" y1="17.6" x2="346.14" y2="22.200000000000003" stroke-width="0.8"/>
<line x1="346.14" y1="317.3" x2="346.14" y2="312.7" stroke-width="0.8"/>
<line x1="346.14" y1="317.3" x2="346.14" y2="320.3" stroke-width="0.8"/>
<line x1="346.14" y1="477.8" x2="346.14" y2="474.8" stroke-width="0.8"/>
<line x1="358.67" y1="17.6" x2="358.67" y2="20.400000000000002" stroke-width="1"/>
<line x1="358.67" y1="317.3" x2="358.67" y2="314.5" stroke-width="1"/>
<line x1="358.67" y1="317.3" x2="358.67" y2="319.3" stroke-width="1"/>
<line x1="358.67" y1="477.8" x2="358.67" y2="475.8" stroke-width="1"/>
<line x1="371.20" y1="17.6" x2="371.20" y2="25.6" stroke-width="1"/>
<line x1="371.20" y1="317.3" x2="371.20" y2="309.3" stroke-width="1"/>
<line x1="371.20" y1="317.3" x2="371.20" y2="322.3" stroke-width="1"/>
<line x1="371.20" y1="477.8" x2="371.20" y2="472.8" stroke-width="1"/>
<line x1="45.4" y1="307.76" x2="51.199999999999996" y2="307.76"/>
<line x1="371.2" y1="307.76" x2="365.4" y2="307.76"/>
<line x1="45.4" y1="298.35" x2="51.199999999999996" y2="298.35"/>
<line x1="371.2" y1="298.35" x2="365.4" y2="298.35"/>
<line x1="45.4" y1="291.67" x2="51.199999999999996" y2="291.67"/>
<line x1="371.2" y1="291.67" x2="365.4" y2="291.67"/>
<line x1="45.4" y1="286.49" x2="51.199999999999996" y2="286.49"/>
<line x1="371.2" y1="286.49" x2="365.4" y2="286.49"/>
<line x1="45.4" y1="282.26" x2="51.199999999999996" y2="282.26"/>
<line x1="371.2" y1="282.26" x2="365.4" y2="282.26"/>
<line x1="45.4" y1="278.68" x2="51.199999999999996" y2="278.68"/>
<line x1="371.2" y1="278.68" x2="365.4" y2="278.68"/>
<line x1="45.4" y1="275.58" x2="51.199999999999996" y2="275.58"/>
<line x1="371.2" y1="275.58" x2="365.4" y2="275.58"/>
<line x1="45.4" y1="272.85" x2="51.199999999999996" y2="272.85"/>
<line x1="371.2" y1="272.85" x2="365.4" y2="272.85"/>
<line x1="45.4" y1="270.40" x2="56.4" y2="270.40"/>
<line x1="371.2" y1="270.40" x2="360.2" y2="270.40"/>
<line x1="45.4" y1="254.31" x2="51.199999999999996" y2="254.31"/>
<line x1="371.2" y1="254.31" x2="365.4" y2="254.31"/>
<line x1="45.4" y1="244.90" x2="51.199999999999996" y2="244.90"/>
<line x1="371.2" y1="244.90" x2="365.4" y2="244.90"/>
<line x1="45.4" y1="238.22" x2="51.199999999999996" y2="238.22"/>
<line x1="371.2" y1="238.22" x2="365.4" y2="238.22"/>
<line x1="45.4" y1="233.04" x2="51.199999999999996" y2="233.04"/>
<line x1="371.2" y1="233.04" x2="365.4" y2="233.04"/>
<line x1="45.4" y1="228.81" x2="51.199999999999996" y2="228.81"/>
<line x1="371.2" y1="228.81" x2="365.4" y2="228.81"/>
<line x1="45.4" y1="225.23" x2="51.199999999999996" y2="225.23"/>
<line x1="371.2" y1="225.23" x2="365.4" y2="225.23"/>
<line x1="45.4" y1="222.13" x2="51.199999999999996" y2="222.13"/>
<line x1="371.2" y1="222.13" x2="365.4" y2="222.13"/>
<line x1="45.4" y1="219.40" x2="51.199999999999996" y2="219.40"/>
<line x1="371.2" y1="219.40" x2="365.4" y2="219.40"/>
<line x1="45.4" y1="216.95" x2="56.4" y2="216.95"/>
<line x1="371.2" y1="216.95" x2="360.2" y2="216.95"/>
<line x1="45.4" y1="200.86" x2="51.199999999999996" y2="200.86"/>
<line x1="371.2" y1="200.86" x2="365.4" y2="200.86"/>
<line x1="45.4" y1="191.45" x2="51.199999999999996" y2="191.45"/>
<line x1="371.2" y1="191.45" x2="365.4" y2="191.45"/>
<line x1="45.4" y1="184.77" x2="51.199999999999996" y2="184.77"/>
<line x1="371.2" y1="184.77" x2="365.4" y2="184.77"/>
<line x1="45.4" y1="179.59" x2="51.199999999999996" y2="179.59"/>
<line x1="371.2" y1="179.59" x2="365.4" y2="179.59"/>
<line x1="45.4" y1="175.36" x2="51.199999999999996" y2="175.36"/>
<line x1="371.2" y1="175.36" x2="365.4" y2="175.36"/>
<line x1="45.4" y1="171.78" x2="51.199999999999996" y2="171.78"/>
<line x1="371.2" y1="171.78" x2="365.4" y2="171.78"/>
<line x1="45.4" y1="168.68" x2="51.199999999999996" y2="168.68"/>
<line x1="371.2" y1="168.68" x2="365.4" y2="168.68"/>
<line x1="45.4" y1="165.95" x2="51.199999999999996" y2="165.95"/>
<line x1="371.2" y1="165.95" x2="365.4" y2="165.95"/>
<line x1="45.4" y1="163.50" x2="56.4" y2="163.50"/>
<line x1="371.2" y1="163.50" x2="360.2" y2="163.50"/>
<line x1="45.4" y1="147.41" x2="51.199999999999996" y2="147.41"/>
<line x1="371.2" y1="147.41" x2="365.4" y2="147.41"/>
<line x1="45.4" y1="138.00" x2="51.199999999999996" y2="138.00"/>
<line x1="371.2" y1="138.00" x2="365.4" y2="138.00"/>
<line x1="45.4" y1="131.32" x2="51.199999999999996" y2="131.32"/>
<line x1="371.2" y1="131.32" x2="365.4" y2="131.32"/>
<line x1="45.4" y1="126.14" x2="51.199999999999996" y2="126.14"/>
<line x1="371.2" y1="126.14" x2="365.4" y2="126.14"/>
<line x1="45.4" y1="121.91" x2="51.199999999999996" y2="121.91"/>
<line x1="371.2" y1="121.91" x2="365.4" y2="121.91"/>
<line x1="45.4" y1="118.33" x2="51.199999999999996" y2="118.33"/>
<line x1="371.2" y1="118.33" x2="365.4" y2="118.33"/>
<line x1="45.4" y1="115.23" x2="51.199999999999996" y2="115.23"/>
<line x1="371.2" y1="115.23" x2="365.4" y2="115.23"/>
<line x1="45.4" y1="112.50" x2="51.199999999999996" y2="112.50"/>
<line x1="371.2" y1="112.50" x2="365.4" y2="112.50"/>
<line x1="45.4" y1="110.05" x2="56.4" y2="110.05"/>
<line x1="371.2" y1="110.05" x2="360.2" y2="110.05"/>
<line x1="45.4" y1="93.96" x2="51.199999999999996" y2="93.96"/>
<line x1="371.2" y1="93.96" x2="365.4" y2="93.96"/>
<line x1="45.4" y1="84.55" x2="51.199999999999996" y2="84.55"/>
<line x1="371.2" y1="84.55" x2="365.4" y2="84.55"/>
<line x1="45.4" y1="77.87" x2="51.199999999999996" y2="77.87"/>
<line x1="371.2" y1="77.87" x2="365.4" y2="77.87"/>
<line x1="45.4" y1="72.69" x2="51.199999999999996" y2="72.69"/>
<line x1="371.2" y1="72.69" x2="365.4" y2="72.69"/>
<line x1="45.4" y1="68.46" x2="51.199999999999996" y2="68.46"/>
<line x1="371.2" y1="68.46" x2="365.4" y2="68.46"/>
<line x1="45.4" y1="64.88" x2="51.199999999999996" y2="64.88"/>
<line x1="371.2" y1="64.88" x2="365.4" y2="64.88"/>
<line x1="45.4" y1="61.78" x2="51.199999999999996" y2="61.78"/>
<line x1="371.2" y1="61.78" x2="365.4" y2="61.78"/>
<line x1="45.4" y1="59.05" x2="51.199999999999996" y2="59.05"/>
<line x1="371.2" y1="59.05" x2="365.4" y2="59.05"/>
<line x1="45.4" y1="56.60" x2="56.4" y2="56.60"/>
<line x1="371.2" y1="56.60" x2="360.2" y2="56.60"/>
<line x1="45.4" y1="40.51" x2="51.199999999999996" y2="40.51"/>
<line x1="371.2" y1="40.51" x2="365.4" y2="40.51"/>
<line x1="45.4" y1="31.10" x2="51.199999999999996" y2="31.10"/>
<line x1="371.2" y1="31.10" x2="365.4" y2="31.10"/>
<line x1="45.4" y1="24.42" x2="51.199999999999996" y2="24.42"/>
<line x1="371.2" y1="24.42" x2="365.4" y2="24.42"/>
<line x1="45.4" y1="19.24" x2="51.199999999999996" y2="19.24"/>
<line x1="371.2" y1="19.24" x2="365.4" y2="19.24"/>
<line x1="45.4" y1="477.67" x2="50.9" y2="477.67"/>
<line x1="371.2" y1="477.67" x2="365.7" y2="477.67"/>
<line x1="45.4" y1="458.14" x2="52.9" y2="458.14"/>
<line x1="371.2" y1="458.14" x2="363.7" y2="458.14"/>
<line x1="45.4" y1="442.19" x2="50.9" y2="442.19"/>
<line x1="371.2" y1="442.19" x2="365.7" y2="442.19"/>
<line x1="45.4" y1="428.70" x2="50.9" y2="428.70"/>
<line x1="371.2" y1="428.70" x2="365.7" y2="428.70"/>
<line x1="45.4" y1="417.01" x2="50.9" y2="417.01"/>
<line x1="371.2" y1="417.01" x2="365.7" y2="417.01"/>
<line x1="45.4" y1="406.71" x2="50.9" y2="406.71"/>
<line x1="371.2" y1="406.71" x2="365.7" y2="406.71"/>
<line x1="45.4" y1="397.48" x2="52.9" y2="397.48"/>
<line x1="371.2" y1="397.48" x2="363.7" y2="397.48"/>
<line x1="45.4" y1="389.14" x2="50.9" y2="389.14"/>
<line x1="371.2" y1="389.14" x2="365.7" y2="389.14"/>
<line x1="45.4" y1="381.53" x2="50.9" y2="381.53"/>
<line x1="371.2" y1="381.53" x2="365.7" y2="381.53"/>
<line x1="45.4" y1="374.53" x2="50.9" y2="374.53"/>
<line x1="371.2" y1="374.53" x2="365.7" y2="374.53"/>
<line x1="45.4" y1="368.04" x2="50.9" y2="368.04"/>
<line x1="371.2" y1="368.04" x2="365.7" y2="368.04"/>
<line x1="45.4" y1="362.00" x2="52.9" y2="362.00"/>
<line x1="371.2" y1="362.00" x2="363.7" y2="362.00"/>
<line x1="45.4" y1="356.35" x2="50.9" y2="356.35"/>
<line x1="371.2" y1="356.35" x2="365.7" y2="356.35"/>
<line x1="45.4" y1="351.05" x2="50.9" y2="351.05"/>
<line x1="371.2" y1="351.05" x2="365.7" y2="351.05"/>
<line x1="45.4" y1="346.05" x2="50.9" y2="346.05"/>
<line x1="371.2" y1="346.05" x2="365.7" y2="346.05"/>
<line x1="45.4" y1="341.32" x2="50.9" y2="341.32"/>
<line x1="371.2" y1="341.32" x2="365.7" y2="341.32"/>
<line x1="45.4" y1="336.83" x2="52.9" y2="336.83"/>
<line x1="371.2" y1="336.83" x2="363.7" y2="336.83"/>
<line x1="45.4" y1="332.56" x2="50.9" y2="332.56"/>
<line x1="371.2" y1="332.56" x2="365.7" y2="332.56"/>
<line x1="45.4" y1="328.49" x2="50.9" y2="328.49"/>
<line x1="371.2" y1="328.49" x2="365.7" y2="328.49"/>
<line x1="45.4" y1="324.60" x2="50.9" y2="324.60"/>
<line x1="371.2" y1="324.60" x2="365.7" y2="324.60"/>
<line x1="45.4" y1="320.87" x2="50.9" y2="320.87"/>
<line x1="371.2" y1="320.87" x2="365.7" y2="320.87"/>
<line x1="45.4" y1="317.30" x2="50.9" y2="317.30"/>
<line x1="371.2" y1="317.30" x2="365.7" y2="317.30"/>
</g>
<text x="51" y="14.2" font-family="Liberation Sans, sans-serif" font-size="12">13000 GeV pp</text>
<text x="367.8" y="14.2" font-family="Liberation Sans, sans-serif" font-size="12.2" text-anchor="end">Z (Drell-Yan)</text>
<text x="84" y="42" font-family="Liberation Sans, sans-serif" font-size="12">Transmin region, 0 &lt;</text>
<text x="198.8" y="42" font-family="Liberation Sans, sans-serif" font-size="12">p</text>
<text x="203.2" y="36.6" font-family="Liberation Sans, sans-serif" font-size="7.5">Z</text>
<text x="203.2" y="48.7" font-family="Liberation Sans, sans-serif" font-size="7.5">T</text>
<text x="210.8" y="42" font-family="Liberation Sans, sans-serif" font-size="12">&lt; 10 [GeV], high thrust</text>
<text x="40" y="60.90" font-family="Liberation Sans, sans-serif" font-size="12" text-anchor="end">10</text>
<text x="40" y="114.35" font-family="Liberation Sans, sans-serif" font-size="12" text-anchor="end">1</text>
<text x="32.9" y="169.00" font-family="Liberation Sans, sans-serif" font-size="11.2" text-anchor="end">10</text>
<text x="32.6" y="163.80" font-family="Liberation Sans, sans-serif" font-size="7">−1</text>
<text x="32.9" y="222.45" font-family="Liberation Sans, sans-serif" font-size="11.2" text-anchor="end">10</text>
<text x="32.6" y="217.25" font-family="Liberation Sans, sans-serif" font-size="7">−2</text>
<text x="32.9" y="275.90" font-family="Liberation Sans, sans-serif" font-size="11.2" text-anchor="end">10</text>
<text x="32.6" y="270.70" font-family="Liberation Sans, sans-serif" font-size="7">−3</text>
<text x="38.5" y="341.13" font-family="Liberation Sans, sans-serif" font-size="12" text-anchor="end">2</text>
<text x="373.4" y="341.13" font-family="Liberation Sans, sans-serif" font-size="12">2</text>
<text x="38.5" y="401.78" font-family="Liberation Sans, sans-serif" font-size="12" text-anchor="end">1</text>
<text x="373.4" y="401.78" font-family="Liberation Sans, sans-serif" font-size="12">1</text>
<text x="38.5" y="462.44" font-family="Liberation Sans, sans-serif" font-size="12" text-anchor="end">0.5</text>
<text x="373.4" y="462.44" font-family="Liberation Sans, sans-serif" font-size="12">0.5</text>
<text x="120.60" y="489.5" font-family="Liberation Sans, sans-serif" font-size="12" text-anchor="middle">1</text>
<text x="245.90" y="489.5" font-family="Liberation Sans, sans-serif" font-size="12" text-anchor="middle">2</text>
<text x="371.20" y="489.5" font-family="Liberation Sans, sans-serif" font-size="12" text-anchor="middle">3</text>
<text x="289.4" y="500.2" font-family="Liberation Sans, sans-serif" font-size="12">Mean p<tspan font-size="7.5" dy="6">T</tspan><tspan dy="-6">/dη dϕ</tspan></text>
<text transform="translate(15.3,165.5) rotate(-90)" font-family="Liberation Sans, sans-serif" font-size="11.5">1/N<tspan font-size="8" dy="3.5">ev</tspan><tspan dy="-3.5"> dN</tspan><tspan font-size="8" dy="3.5">ev</tspan><tspan dy="-3.5">/d mean p</tspan><tspan font-size="8" dy="6.7">T</tspan><tspan dy="-6.7" dx="0.8" font-size="12.3"> [GeV]</tspan></text>
<text transform="translate(8.8,20.6) rotate(-90)" font-family="Liberation Sans, sans-serif" font-size="7">1</text>
<text transform="translate(17.9,427.5) rotate(-90)" font-family="Liberation Sans, sans-serif" font-size="9">Ratio to ATLAS</text>
<text transform="translate(379.7,127.1) rotate(-90)" font-family="Liberation Sans, sans-serif" font-size="9.45" fill="#666">Rivet 4.1.0, ≥ 2.2M events</text>
<text transform="translate(380.5,313.8) rotate(-90)" font-family="Liberation Sans, sans-serif" font-size="9.45" fill="#666">mcplots.cern.ch [arXiv:1306.3436]</text>
<text x="162.5" y="302.7" font-family="Liberation Sans, sans-serif" font-size="8" fill="#999">(ATLAS_2019_I1736531)</text>
<rect x="73.9" y="240.5" width="5.6" height="5.6" fill="#000"/>
<text x="94.5" y="247.3" font-family="Liberation Sans, sans-serif" font-size="9.4">ATLAS</text>
<line x1="64" y1="256.8" x2="88.5" y2="256.8" stroke="#0000ff" stroke-width="1.3"/><path d="M73.70,259.35L79.70,259.35L76.70,253.95Z" fill="#0000ff"/>
<text x="94.5" y="259.6" font-family="Liberation Sans, sans-serif" font-size="9.4">Pythia 8.315 default</text>
<line x1="64" y1="269.3" x2="88.5" y2="269.3" stroke="#179dc3" stroke-width="1.3" stroke-dasharray="3,1.5,1,1.5"/><path d="M73.70,266.75L79.70,266.75L76.70,272.15Z" fill="#179dc3"/>
<text x="94.5" y="272" font-family="Liberation Sans, sans-serif" font-size="9.4">Pythia 8.315 vincia-default</text></svg></body></html>
